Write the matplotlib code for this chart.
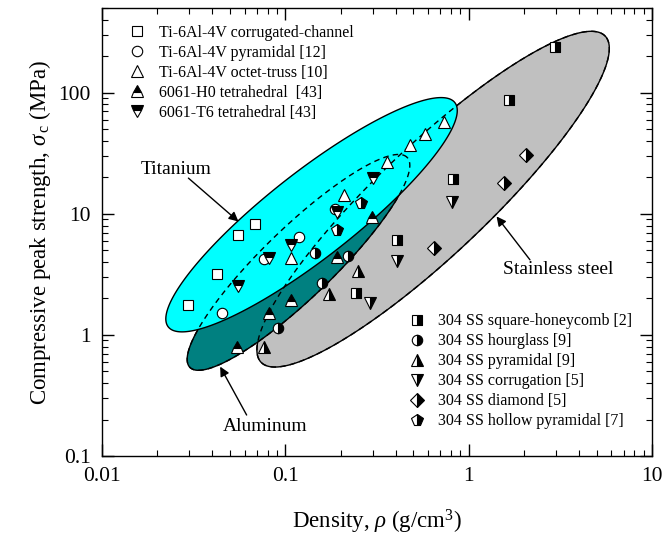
import numpy as np
import matplotlib.pyplot as plt

plt.rcParams['font.family'] = ['Liberation Serif', 'DejaVu Serif']
plt.rcParams['mathtext.fontset'] = 'custom'
plt.rcParams['mathtext.rm'] = 'Liberation Serif'
plt.rcParams['mathtext.it'] = 'Liberation Serif:italic'

# Datos (densidad g/cm3, resistencia MPa)
ti_corrugado_x = [0.0296, 0.0423, 0.0550, 0.0681]
ti_corrugado_y = [1.75, 3.19, 6.74, 8.22]
ti_piramidal_x = [0.0453, 0.0767, 0.119, 0.187]
ti_piramidal_y = [1.53, 4.22, 6.42, 10.9]
ti_octeto_x = [0.108, 0.209, 0.357, 0.476, 0.576, 0.736]
ti_octeto_y = [4.30, 14.4, 26.7, 36.7, 45.6, 57.3]
al_h0_x = [0.0545, 0.0819, 0.108, 0.192, 0.297]
al_h0_y = [0.79, 1.53, 1.95, 4.39, 9.4]
al_t6_x = [0.0555, 0.0819, 0.107, 0.192, 0.302]
al_t6_y = [2.51, 4.30, 5.54, 10.4, 19.7]

ss_cuadrado_x = [0.243, 0.405, 0.819, 1.65, 2.96]
ss_cuadrado_y = [2.21, 6.10, 19.5, 86.4, 237]
ss_reloj_x = [0.0917, 0.145, 0.158, 0.219]
ss_reloj_y = [1.14, 4.76, 2.67, 4.45]
ss_piramidal_x = [0.0765, 0.173, 0.249]
ss_piramidal_y = [0.79, 2.16, 3.34]
ss_corrugado_x = [0.290, 0.405, 0.815]
ss_corrugado_y = [1.84, 4.09, 12.5]
ss_diamante_x = [0.650, 1.56, 2.06]
ss_diamante_y = [5.21, 18.1, 30.7]
ss_hueco_x = [0.191, 0.259]
ss_hueco_y = [7.28, 12.3]

# Elipses: centro, punta del eje mayor, punta del eje menor
ELIPSE_TI = [(0.139, 9.82), (0.841, 82.8), (0.0997, 18.7)]
ELIPSE_AL = [(0.118, 3.97), (0.462, 29.2), (0.087, 6.41)]
ELIPSE_SS = [(0.640, 13.2), (5.56, 293), (0.398, 28.2)]


def puntos_elipse(centro, punta_mayor, punta_menor, n=400):
    c = np.log10(centro)
    a = np.log10(punta_mayor) - c
    b = np.log10(punta_menor) - c
    t = np.linspace(0, 2 * np.pi, n)
    px = c[0] + a[0] * np.cos(t) + b[0] * np.sin(t)
    py = c[1] + a[1] * np.cos(t) + b[1] * np.sin(t)
    return 10 ** px, 10 ** py


fig = plt.figure(figsize=(6.69, 5.45), dpi=100)
ax = fig.add_axes([0.1525, 0.1633, 0.822, 0.822])
ax.set_xscale('log')
ax.set_yscale('log')
ax.set_xlim(0.01, 10)
ax.set_ylim(0.1, 500)

colores = ['#C0C0C0', '#008080', '#00FFFF']
for i, elipse in enumerate([ELIPSE_SS, ELIPSE_AL, ELIPSE_TI]):
    ex, ey = puntos_elipse(*elipse)
    ax.fill(ex, ey, facecolor=colores[i], edgecolor='black', lw=1.0, zorder=1 + i)

# bordes ocultos en trazos
for elipse in [ELIPSE_SS, ELIPSE_AL]:
    ex, ey = puntos_elipse(*elipse)
    ax.plot(ex, ey, color='black', lw=1.0, ls=(0, (4, 3)), zorder=4)

estilo = dict(ls='none', mec='black', mew=0.8, zorder=5)
grande = 8.5
chico = 7.0
h1 = ax.plot(ti_corrugado_x, ti_corrugado_y, marker='s', mfc='white', ms=chico, **estilo,
             label='Ti-6Al-4V corrugated-channel')[0]
h2 = ax.plot(ti_piramidal_x, ti_piramidal_y, marker='o', mfc='white', ms=chico + 0.5, **estilo,
             label='Ti-6Al-4V pyramidal [12]')[0]
h3 = ax.plot(ti_octeto_x, ti_octeto_y, marker='^', mfc='white', ms=grande, **estilo,
             label='Ti-6Al-4V octet-truss [10]')[0]
h4 = ax.plot(al_h0_x, al_h0_y, marker='^', fillstyle='top', mfc='black', mfcalt='white', ms=grande,
             **estilo, label='6061-H0 tetrahedral  [43]')[0]
h5 = ax.plot(al_t6_x, al_t6_y, marker='v', fillstyle='top', mfc='black', mfcalt='white', ms=grande,
             **estilo, label='6061-T6 tetrahedral [43]')[0]

mitad = dict(fillstyle='right', mfc='black', mfcalt='white')
s1 = ax.plot(ss_cuadrado_x, ss_cuadrado_y, marker='s', ms=chico, **estilo, **mitad,
             label='304 SS square-honeycomb [2]')[0]
s2 = ax.plot(ss_reloj_x, ss_reloj_y, marker='o', ms=chico + 0.5, **estilo, **mitad,
             label='304 SS hourglass [9]')[0]
s3 = ax.plot(ss_piramidal_x, ss_piramidal_y, marker='^', ms=grande, **estilo, **mitad,
             label='304 SS pyramidal [9]')[0]
s4 = ax.plot(ss_corrugado_x, ss_corrugado_y, marker='v', ms=grande, **estilo, **mitad,
             label='304 SS corrugation [5]')[0]
s5 = ax.plot(ss_diamante_x, ss_diamante_y, marker='D', ms=chico, **estilo, **mitad,
             label='304 SS diamond [5]')[0]
s6 = ax.plot(ss_hueco_x, ss_hueco_y, marker='p', ms=grande, **estilo, **mitad,
             label='304 SS hollow pyramidal [7]')[0]

opciones_leyenda = dict(loc='upper left', bbox_transform=fig.transFigure, frameon=False,
                        fontsize=11.5, numpoints=1, handlelength=1.0, handletextpad=0.85,
                        labelspacing=0.25, borderpad=0.2, borderaxespad=0)
leg1 = ax.legend(handles=[h1, h2, h3, h4, h5], bbox_to_anchor=(0.188, 0.96), **opciones_leyenda)
ax.add_artist(leg1)
ax.legend(handles=[s1, s2, s3, s4, s5, s6], bbox_to_anchor=(0.606, 0.431), **opciones_leyenda)

# Anotaciones
flecha = dict(arrowstyle='-|>', color='black', lw=1.0, mutation_scale=14, shrinkA=0, shrinkB=0)
ax.annotate('', xy=(0.0555, 8.63), xytext=(0.0296, 19.7), arrowprops=flecha, zorder=6)
ax.text(0.0254, 23.1, 'Titanium', fontsize=14, ha='center', va='center')
ax.annotate('', xy=(0.0441, 0.547), xytext=(0.0615, 0.218), arrowprops=flecha, zorder=6)
ax.text(0.078, 0.174, 'Aluminum', fontsize=14, ha='center', va='center')
ax.annotate('', xy=(1.42, 9.51), xytext=(2.16, 4.17), arrowprops=flecha, zorder=6)
ax.text(3.08, 3.44, 'Stainless steel', fontsize=14, ha='center', va='center')

ax.set_xticks([0.01, 0.1, 1, 10])
ax.set_xticklabels(['0.01', '0.1', '1', '10'])
ax.set_yticks([0.1, 1, 10, 100])
ax.set_yticklabels(['0.1', '1', '10', '100'])
ax.tick_params(which='both', direction='in', top=True, right=True, labelsize=15.5, pad=8)
ax.tick_params(which='major', length=8.5, width=1)
ax.tick_params(which='minor', length=4, width=0.8)
for lado in ax.spines.values():
    lado.set_linewidth(1.0)

ax.set_xlabel(r'Density, $\rho$ (g/cm$^3$)', fontsize=16.5)
ax.set_ylabel(r'Compressive peak strength, $\sigma_{\,\mathrm{c}}$ (MPa)', fontsize=16.5)
ax.xaxis.set_label_coords(0.5, -0.115)
ax.yaxis.set_label_coords(-0.09, 0.5)

fig.savefig('out.png', dpi=100)
